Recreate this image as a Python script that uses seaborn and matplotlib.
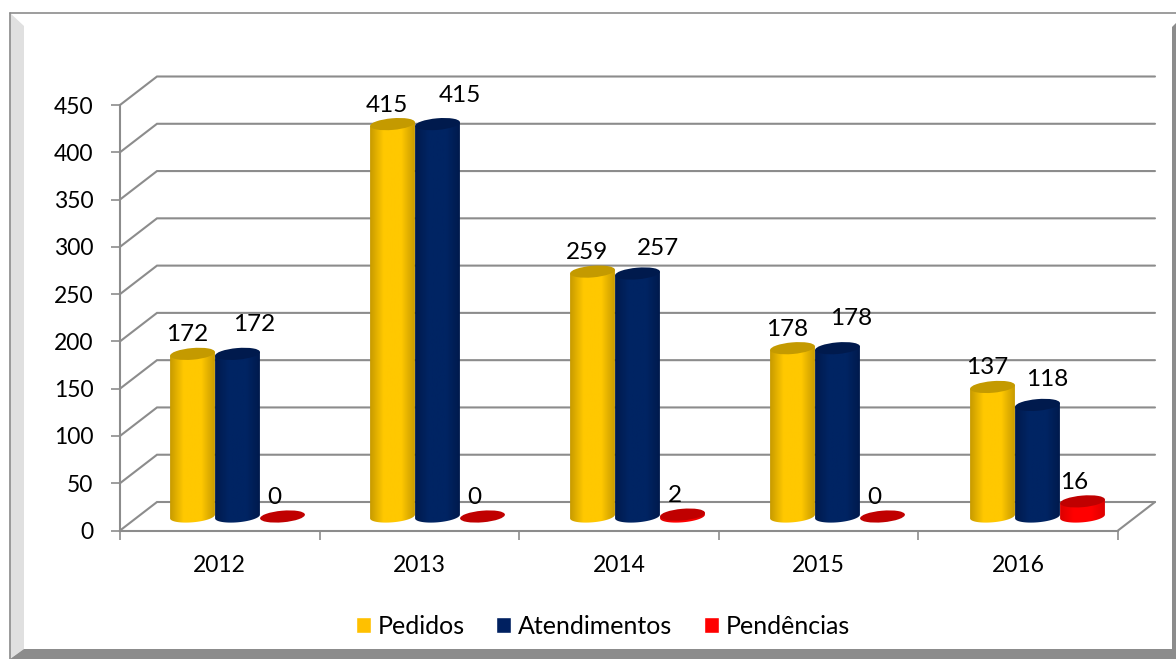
import numpy as np
import pandas as pd
import matplotlib
matplotlib.use('Agg')
import matplotlib.pyplot as plt
import seaborn as sns
from matplotlib.colors import LinearSegmentedColormap
from matplotlib.patches import Ellipse, Polygon

anos = ['2012', '2013', '2014', '2015', '2016']
pedidos = [172, 415, 259, 178, 137]
atendimentos = [172, 415, 257, 178, 118]
pendencias = [0, 0, 2, 0, 16]
series = ['Pedidos', 'Atendimentos', 'Pendências']
y_ticks = [0, 50, 100, 150, 200, 250, 300, 350, 400, 450]

W, H = 1176, 659
cor_legenda = ['#FFC000', '#002060', '#FF0000']
cor_topo = ['#C49A00', '#001A4D', '#C00000']
cor_lado = [['#C89B00', '#FFC800', '#FFC800', '#C89B00'],
            ['#001A4D', '#002463', '#002463', '#001A4D'],
            ['#DD0000', '#FF0000', '#FF0000', '#DD0000']]
cinza = '#8C8C8C'

df = pd.DataFrame({'ano': anos * 3,
                   'valor': pedidos + atendimentos + pendencias,
                   'serie': [s for s in series for _ in anos]})

sns.set_theme(style='white')
plt.rcParams['font.family'] = ['Lato', 'DejaVu Sans']
fig = plt.figure(figsize=(W / 100, H / 100), dpi=100, facecolor='white')

# posicao em pixels da frente do grafico
esq, dir_, base, topo = 120, 1118, 530.5, 105
dx_fundo, dy_fundo = 37, 28.5
pos = [esq / W, 1 - base / H, (dir_ - esq) / W, (base - topo) / H]

ax = fig.add_axes(pos)
ax.set_xlim(-0.5, 4.5)
ax.set_ylim(0, 450)
ax.patch.set_alpha(0)
for s in ['top', 'right']:
    ax.spines[s].set_visible(False)
for s in ['left', 'bottom']:
    ax.spines[s].set_color(cinza)
    ax.spines[s].set_linewidth(1.5)
ax.set_yticks(y_ticks)
ax.set_xticks(np.arange(-0.5, 5))
ax.set_xticklabels([])
ax.set_xticks(range(5), anos, minor=True)
ax.tick_params(axis='y', length=6.5, width=1.2, color=cinza, pad=12.5, labelsize=16.5,
               left=True, labelcolor='black')
ax.tick_params(axis='x', which='major', length=6.5, width=1.2, color=cinza, bottom=True)
ax.tick_params(axis='x', which='minor', length=0, pad=17.5, labelsize=16.5, labelcolor='black')

# grade em perspectiva
fx = dx_fundo / (dir_ - esq)
fy = dy_fundo / (base - topo)
for v in y_ticks:
    f = v / 450
    ax.plot([0, fx, 1 + fx], [f, f + fy, f + fy], transform=ax.transAxes,
            color=cinza, lw=1.5, clip_on=False, solid_joinstyle='miter')
ax.plot([1, 1 + fx], [0, fy], transform=ax.transAxes, color=cinza, lw=1.5, clip_on=False)

# barras deslocadas para dentro da caixa
ax_b = fig.add_axes([137.5 / W, 1 - 516.5 / H, 1000 / W, (base - topo) / H])
sns.barplot(data=df, x='ano', y='valor', hue='serie', hue_order=series,
            palette=cor_legenda, width=0.675, gap=0, saturation=1, ax=ax_b)
ax_b.set_xlim(-0.5, 4.5)
ax_b.set_ylim(0, 450)
sns.move_legend(ax_b, 'center', bbox_to_anchor=(603 / W, 1 - 626 / H),
                bbox_transform=fig.transFigure, ncol=3, frameon=False, title=None,
                fontsize=18, handlelength=0.6, handleheight=0.6, handletextpad=0.28,
                columnspacing=1.24, labelcolor='black')
ax_b.axis('off')

# camada em pixels para os cilindros e rotulos
ax_p = fig.add_axes([0, 0, 1, 1], zorder=5)
ax_p.patch.set_alpha(0)
ax_p.axis('off')

# moldura
ax_p.add_patch(Polygon([(9.5, 12.5), (24, 26), (24, 649), (9.5, 659)], fc='#E0E0E0', ec='none'))
ax_p.plot([9.5, 9.5], [12.5, 659], color=cinza, lw=1.2)
ax_p.plot([9.5, 1176], [12.5, 12.5], color=cinza, lw=1.2)
ax_p.add_patch(Polygon([(1172, 27), (1176, 23), (1176, 659), (1172, 659)], fc=cinza, ec='none'))
ax_p.add_patch(Polygon([(10, 659), (24, 649), (1176, 649), (1176, 659)], fc=cinza, ec='none'))

a, b, phi = 22.5, 5.8, np.deg2rad(-5)
rotulo_dx = [[-5.5] * 5, [17, 22, 20, 14, 10], [-8] * 5]
rotulo_dy = [[19] * 5, [29, 29, 25, 30, 25], [19] * 5]
for i, cont in enumerate(ax_b.containers):
    cmap = LinearSegmentedColormap.from_list('lado', list(zip([0, 0.3, 0.7, 1], cor_lado[i])))
    for j, bar in enumerate(cont):
        v = bar.get_height()
        xd, yd = ax_b.transData.transform((bar.get_x() + bar.get_width() / 2, v))
        cx, y_top = xd, H - yd
        y_bot = H - ax_b.transData.transform((0, 0))[1]
        z = 2 + i * 0.1
        # a barra plana fica por baixo do cilindro, sem aparecer nos cantos
        bar.set_x(bar.get_x() + 0.02)
        bar.set_width(bar.get_width() - 0.04)
        if v > 0:
            t = np.linspace(0, np.pi, 40)
            xs = cx + a * np.cos(t) * np.cos(phi) - b * np.sin(t) * np.sin(phi)
            ys = y_bot + a * np.cos(t) * np.sin(phi) + b * np.sin(t) * np.cos(phi)
            canto = [(cx - a * np.cos(phi), y_top - a * np.sin(phi)),
                     (cx + a * np.cos(phi), y_top + a * np.sin(phi))]
            forma = Polygon(list(zip(xs, ys)) + canto, fc='none', ec='none',
                            transform=ax_p.transData)
            ax_p.add_patch(forma)
            im = ax_p.imshow(np.linspace(0, 1, 64)[None, :], cmap=cmap, aspect='auto',
                             extent=(cx - a, cx + a, y_bot + b + 2, y_top - b - 2), zorder=z)
            im.set_clip_path(forma)
        ax_p.add_patch(Ellipse((cx, y_top), 2 * a, 2 * b, angle=np.rad2deg(phi),
                               fc=cor_topo[i], ec='none', zorder=z + 0.01))
        ax_p.text(cx + rotulo_dx[i][j], y_top - rotulo_dy[i][j], str(int(v)), ha='center',
                  va='center', fontsize=17.5, color='black', zorder=6)

ax_p.set_xlim(0, W)
ax_p.set_ylim(H, 0)
ax_p.set_aspect('auto')

fig.savefig('out.png', dpi=100)
